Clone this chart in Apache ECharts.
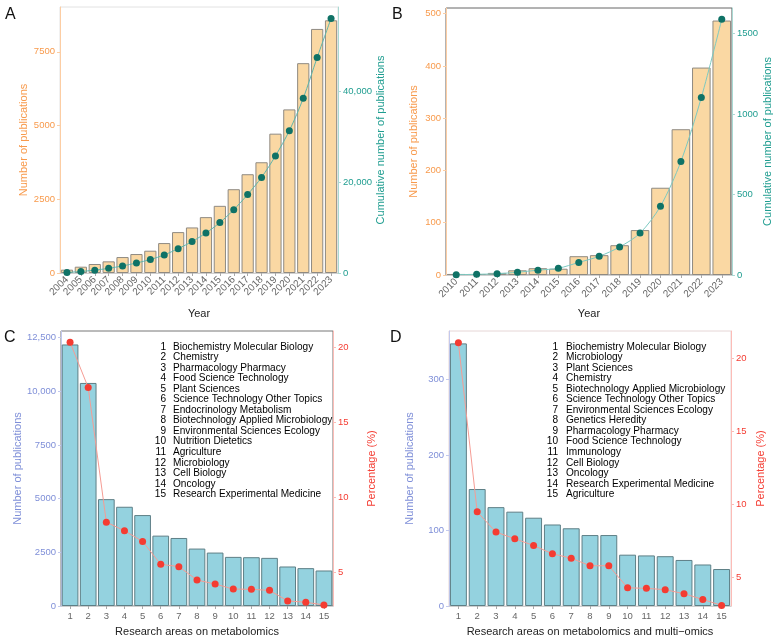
<!DOCTYPE html>
<html><head><meta charset="utf-8">
<script src="https://cdn.jsdelivr.net/npm/echarts@6/dist/echarts.min.js"></script>
<style>html,body{margin:0;padding:0;background:#fff}#c{width:774px;height:640px}</style>
</head><body><div id="c"></div>
<script>
// ---------- DATA ----------
const yearsA = ['2004','2005','2006','2007','2008','2009','2010','2011','2012','2013','2014','2015','2016','2017','2018','2019','2020','2021','2022','2023'];
const pubsA = [113, 214, 305, 395, 541, 643, 756, 1015, 1387, 1545, 1895, 2278, 2842, 3350, 3756, 4726, 5549, 7117, 8278, 8571];
const cumA = [110, 330, 630, 1020, 1560, 2200, 2960, 3980, 5360, 6910, 8800, 11080, 13920, 17270, 21030, 25750, 31300, 38420, 47390, 55960];

const yearsB = ['2010','2011','2012','2013','2014','2015','2016','2017','2018','2019','2020','2021','2022','2023'];
const pubsB = [2, 2, 4, 9, 13, 12, 36, 38, 57, 86, 167, 279, 397, 487];
const cumB = [2, 4, 8, 17, 30, 42, 78, 116, 174, 260, 427, 705, 1102, 1587];

const areaIds = ['1','2','3','4','5','6','7','8','9','10','11','12','13','14','15'];
const areaNamesC = ['Biochemistry Molecular Biology','Chemistry','Pharmacology Pharmacy','Food Science Technology','Plant Sciences','Science Technology Other Topics','Endocrinology Metabolism','Biotechnology Applied Microbiology','Environmental Sciences Ecology','Nutrition Dietetics','Agriculture','Microbiology','Cell Biology','Oncology','Research Experimental Medicine'];
const pubsC = [12183, 10390, 4978, 4623, 4236, 3278, 3169, 2675, 2489, 2288, 2273, 2242, 1840, 1763, 1654];
const pctC = [20.31, 17.30, 8.34, 7.77, 7.06, 5.53, 5.38, 4.49, 4.22, 3.89, 3.87, 3.80, 3.10, 3.01, 2.83];

const areaNamesD = ['Biochemistry Molecular Biology','Microbiology','Plant Sciences','Chemistry','Biotechnology Applied Microbiology','Science Technology Other Topics','Environmental Sciences Ecology','Genetics Heredity','Pharmacology Pharmacy','Food Science Technology','Immunology','Cell Biology','Oncology','Research Experimental Medicine','Agriculture'];
const pubsD = [348, 155, 131, 125, 117, 108, 103, 94, 94, 68, 67, 66, 61, 55, 49];
const pctD = [21.10, 9.50, 8.11, 7.65, 7.19, 6.62, 6.32, 5.80, 5.80, 4.29, 4.25, 4.16, 3.88, 3.49, 3.08];

const ticksA_left = [0, 2500, 5000, 7500];
const ticksA_right = [0, 20000, 40000];
const ticksB_left = [0, 100, 200, 300, 400, 500];
const ticksB_right = [0, 500, 1000, 1500];
const ticksC_left = [0, 2500, 5000, 7500, 10000, 12500];
const ticksC_right = [5, 10, 15, 20];
const ticksD_left = [0, 100, 200, 300];
const ticksD_right = [5, 10, 15, 20];

// ---------- STYLE ----------
const FONT = "'Liberation Sans', Arial, sans-serif";
const ORANGE = '#f89a4c', TEAL = '#1f9d90', LAV = '#7f8fd8', RED = '#f43c32';
const comma = v => String(v).replace(/\B(?=(\d{3})+(?!\d))/g, ',');
const commaBig = v => v >= 10000 ? comma(v) : String(v);

function yAx(grid, pos, min, max, ticks, color, lineColor, name, nameGap, fmt) {
  return {
    type: 'value', gridIndex: grid, position: pos, min: min, max: max,
    name: name, nameLocation: 'middle', nameGap: nameGap, nameRotate: 90,
    nameTextStyle: { color: color, fontSize: 11, fontFamily: FONT },
    axisLine: { show: true, lineStyle: { color: lineColor, width: 1 } },
    axisTick: { show: true, length: 3, customValues: ticks, lineStyle: { color: lineColor } },
    axisLabel: { customValues: ticks, color: color, fontSize: 9.5, fontFamily: FONT, margin: 5, formatter: fmt || (v => String(v)) },
    splitLine: { show: false }
  };
}
function xAx(grid, cats, name, nameGap, rotate) {
  return {
    type: 'category', gridIndex: grid, data: cats,
    name: name, nameLocation: 'middle', nameGap: nameGap,
    nameTextStyle: { color: '#222', fontSize: 11, fontFamily: FONT },
    axisLine: { show: true, lineStyle: { color: '#cfcfcf' } },
    axisTick: { show: true, alignWithLabel: true, length: 3, lineStyle: { color: '#aaa' } },
    axisLabel: { interval: 0, rotate: rotate, color: '#666', fontSize: rotate ? 10 : 9.5, fontFamily: FONT, margin: 5 }
  };
}
function barS(xi, yi, data, fill, border, gap) {
  return { type: 'bar', xAxisIndex: xi, yAxisIndex: yi, data: data, barCategoryGap: gap,
    itemStyle: { color: fill, borderColor: border, borderWidth: 1 }, z: 2 };
}
function lineS(xi, yi, data, lineColor, dotColor, smooth) {
  return { type: 'line', xAxisIndex: xi, yAxisIndex: yi, data: data, smooth: smooth,
    symbol: 'circle', symbolSize: 7, showSymbol: true,
    lineStyle: { color: lineColor, width: 1 }, itemStyle: { color: dotColor }, z: 3 };
}
function listText(names, xNum, xName, y0, dy) {
  const els = [];
  names.forEach((n, i) => {
    els.push({ type: 'text', x: xNum, y: y0 + i * dy, z: 10,
      style: { text: areaIds[i], fill: '#000', font: '10.1px ' + FONT, align: 'right', verticalAlign: 'middle' } });
    els.push({ type: 'text', x: xName, y: y0 + i * dy, z: 10,
      style: { text: n, fill: '#000', font: '10.1px ' + FONT, align: 'left', verticalAlign: 'middle' } });
  });
  return els;
}
function letter(t, x, y) {
  return { type: 'text', x: x, y: y, style: { text: t, fill: '#111', font: '16px ' + FONT, align: 'left', verticalAlign: 'middle' } };
}

const option = {
  animation: false,
  backgroundColor: '#fff',
  textStyle: { fontFamily: FONT },
  grid: [
    { left: 60, top: 7, width: 278, height: 266, show: true, borderColor: '#e2e2e2', borderWidth: 1 },
    { left: 446, top: 8, width: 286, height: 267, show: true, borderColor: '#666', borderWidth: 1 },
    { left: 61, top: 331, width: 272, height: 275, show: true, borderColor: '#777', borderWidth: 1 },
    { left: 449, top: 331, width: 282, height: 275, show: true, borderColor: '#e6d6d6', borderWidth: 1 }
  ],
  xAxis: [
    xAx(0, yearsA, 'Year', 35, 45),
    xAx(1, yearsB, 'Year', 33, 45),
    xAx(2, areaIds, 'Research areas on metabolomics', 20, 0),
    xAx(3, areaIds, 'Research areas on metabolomics and multi\u2212omics', 20, 0)
  ],
  yAxis: [
    yAx(0, 'left', 0, 9022, ticksA_left, ORANGE, '#fccda3', 'Number of publications', 28),
    yAx(0, 'right', 0, 58500, ticksA_right, TEAL, '#a9d9d3', 'Cumulative number of publications', 33, comma),
    yAx(1, 'left', 0, 511, ticksB_left, ORANGE, '#fccda3', 'Number of publications', 27),
    yAx(1, 'right', 0, 1657.5, ticksB_right, TEAL, '#a9d9d3', 'Cumulative number of publications', 29),
    yAx(2, 'left', 0, 12810, ticksC_left, LAV, '#c3c9ee', 'Number of publications', 31, commaBig),
    yAx(2, 'right', 2.76, 21.06, ticksC_right, RED, '#fcbcb7', 'Percentage (%)', 33),
    yAx(3, 'left', 0, 364.4, ticksD_left, LAV, '#c3c9ee', 'Number of publications', 34),
    yAx(3, 'right', 3.04, 21.9, ticksD_right, RED, '#fcbcb7', 'Percentage (%)', 24)
  ],
  series: [
    barS(0, 0, pubsA, '#fad8a3', '#8f8a82', '12%'),
    lineS(0, 1, cumA, '#5fb5ab', '#0f7266', 0.3),
    barS(1, 2, pubsB, '#fad8a3', '#8f8a82', '9%'),
    lineS(1, 3, cumB, '#7cc9c1', '#0f7266', 0.3),
    barS(2, 4, pubsC, '#94d2df', '#5e7f86', '8%'),
    lineS(2, 5, pctC, '#f59c94', RED, false),
    barS(3, 6, pubsD, '#94d2df', '#5e7f86', '10%'),
    lineS(3, 7, pctD, '#f59c94', RED, false)
  ],
  graphic: [
    letter('A', 5, 15), letter('B', 392, 15), letter('C', 4, 338), letter('D', 390, 338)
  ].concat(listText(areaNamesC, 166, 173, 347, 10.52))
   .concat(listText(areaNamesD, 558, 566, 347, 10.52))
};
const chart = echarts.init(document.getElementById('c'), null, { renderer: 'canvas' });
chart.setOption(option);
</script></body></html>
